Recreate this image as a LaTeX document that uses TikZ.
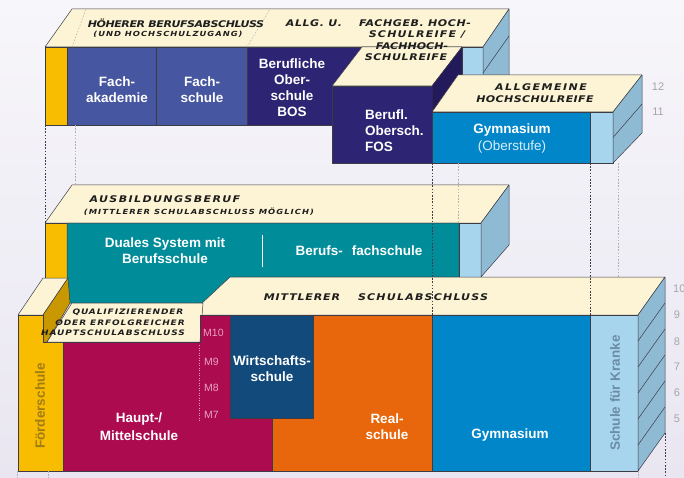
\documentclass[tikz,border=0pt]{standalone}
\usepackage{fontspec}
\setmainfont{Liberation Sans}
\newfontfamily\capsfont[FakeStretch=1.2]{DejaVu Sans}
\definecolor{bgtop}{HTML}{F7F6FA}
\definecolor{bgbottom}{HTML}{E9E6F1}
\definecolor{cream}{HTML}{FCF4D4}
\definecolor{gold}{HTML}{F8BC00}
\definecolor{ochre}{HTML}{C99700}
\definecolor{fachblue}{HTML}{4756A0}
\definecolor{bospurple}{HTML}{2E2474}
\definecolor{fosside}{HTML}{221A5A}
\definecolor{gymblue}{HTML}{0086C9}
\definecolor{paleblue}{HTML}{A8D5EE}
\definecolor{sideblue}{HTML}{8EBAD4}
\definecolor{dualteal}{HTML}{008C98}
\definecolor{hauptred}{HTML}{AD0B50}
\definecolor{wirtblue}{HTML}{124A7C}
\definecolor{realorange}{HTML}{E8670C}
\definecolor{edgegray}{HTML}{3C3C46}
\definecolor{capstext}{HTML}{1E1E1E}
\definecolor{gradegray}{HTML}{A6A6A6}
\definecolor{mpink}{HTML}{E6A2C0}
\definecolor{krankeblue}{HTML}{6B8CA6}
\definecolor{foerdergold}{HTML}{A07D12}
\definecolor{oberlight}{HTML}{D8EEFA}
\newcommand\capsbig[1]{\capsfont\bfseries\itshape\fontsize{9.2}{11}\selectfont\addfontfeature{LetterSpace=#1}}
\newcommand\capssmall[1]{\capsfont\bfseries\itshape\fontsize{7}{9}\selectfont\addfontfeature{LetterSpace=#1}}
\tikzset{
  face/.style={draw=edgegray,line width=.5pt,line join=round},
  guide/.style={draw=edgegray,line width=.6pt,dash pattern=on 1.6pt off 1.6pt},
  lightguide/.style={draw=gray!60,line width=.5pt,dash pattern=on 1.6pt off 1.6pt},
  capsnode/.style={inner sep=0pt,text=capstext},
  school/.style={inner sep=0pt,text=white,align=center,font=\bfseries\fontsize{13.5}{16}\selectfont},
  grade/.style={inner sep=0pt,text=gradegray,font=\fontsize{11}{13}\selectfont},
  mgrade/.style={inner sep=0pt,anchor=west,text=mpink,font=\fontsize{10.5}{12}\selectfont}
}
\begin{document}
\begin{tikzpicture}[x=1pt,y=-1pt]
\useasboundingbox (0,0) rectangle (684,478);
\shade[top color=bgtop,bottom color=bgbottom] (0,0) rectangle (684,478);
\filldraw[face,fill=cream] (45,47) -- (72,9) -- (509,9) -- (483,47) -- cycle;
\filldraw[face,fill=gold] (45,47) rectangle (67,125);
\filldraw[face,fill=fachblue] (67,47) rectangle (156,125);
\filldraw[face,fill=fachblue] (156,47) rectangle (247,125);
\filldraw[face,fill=bospurple] (247,47) rectangle (362,125);
\filldraw[face,fill=paleblue] (462,47) rectangle (483,128);
\filldraw[face,fill=sideblue] (483,47) -- (509,9) -- (509,100) -- (483,138) -- cycle;
\draw[face] (483,73) -- (509,36);
\filldraw[face,fill=cream] (332,86) -- (362,47) -- (462,47) -- (432,86) -- cycle;
\filldraw[face,fill=bospurple] (332,86) rectangle (432,163);
\filldraw[face,fill=fosside] (432,86) -- (462,47) -- (462,100) -- (432,140) -- cycle;
\filldraw[face,fill=cream] (432,112) -- (458,75) -- (642,75) -- (613,112) -- cycle;
\filldraw[face,fill=gymblue] (432,112) rectangle (590,163);
\filldraw[face,fill=paleblue] (590,112) rectangle (613,163);
\filldraw[face,fill=sideblue] (613,112) -- (642,75) -- (642,133) -- (613,163) -- cycle;
\draw[face] (613,137.5) -- (642,104);
\filldraw[face,fill=cream] (45,223) -- (72,185) -- (509,185) -- (481,223) -- cycle;
\filldraw[face,fill=gold] (45,223) rectangle (67,278);
\filldraw[face,fill=dualteal] (67,223) -- (459,223) -- (459,277) -- (230,277) -- (203,303) -- (67,303) -- cycle;
\filldraw[face,fill=paleblue] (459,223) rectangle (481,277);
\filldraw[face,fill=sideblue] (481,223) -- (509,185) -- (509,245) -- (481,277) -- cycle;
\draw[white,line width=.8pt] (262,235) -- (262,267);
\filldraw[face,fill=cream] (200,315) -- (200,305) -- (230,277) -- (665,277) -- (638,315) -- cycle;
\filldraw[face,fill=cream] (18,315) -- (43,278) -- (68,278) -- (43,315) -- cycle;
\filldraw[face,fill=ochre] (43,315) -- (68,278) -- (70,303) -- (47,342) -- (43,342) -- cycle;
\filldraw[face,fill=gold] (18,315) -- (43,315) -- (43,342) -- (63,342) -- (63,471) -- (18,471) -- cycle;
\filldraw[face,fill=cream] (47,342) -- (72,303) -- (203,303) -- (200,342) -- cycle;
\filldraw[face,fill=hauptred] (63,342) -- (200,342) -- (200,315) -- (230,315) -- (230,418) -- (272,418) -- (272,471) -- (63,471) -- cycle;
\filldraw[face,fill=wirtblue] (230,315) rectangle (313,418);
\filldraw[face,fill=realorange] (313,315) -- (432,315) -- (432,471) -- (272,471) -- (272,418) -- (313,418) -- cycle;
\filldraw[face,fill=gymblue] (432,315) rectangle (590,471);
\filldraw[face,fill=paleblue] (590,315) rectangle (638,471);
\filldraw[face,fill=sideblue] (638,315) -- (665,277) -- (665,433) -- (638,471) -- cycle;
\foreach \k in {1,...,5}
  \draw[face] (638,{315+26*\k}) -- (665,{277+26*\k});
\draw[mpink,line width=.5pt,dash pattern=on 1pt off 1.5pt] (199,345) -- (199,422);
\draw[guide] (45,125) -- (45,223);
\draw[lightguide] (75,125) -- (75,185);
\draw[guide] (432,163) -- (432,315);
\draw[lightguide] (458,163) -- (458,223);
\draw[guide] (590,163) -- (590,315);
\draw[lightguide] (618,163) -- (618,277);
\draw[lightguide] (72,47) -- (86,9);
\draw[lightguide] (247,47) -- (270,9);
\draw[lightguide] (17,471) -- (17,478);
\draw[lightguide] (48,471) -- (48,478);
\draw[guide] (665,433) -- (665,478);
\draw[lightguide] (638,471) -- (638,478);
\node[capsnode,font=\capsbig{-5}] (hoeher) at (176,23) {HÖHERER BERUFSABSCHLUSS};
\node[capsnode,font=\capssmall{14}] (hoehersub) at (168,34) {(UND HOCHSCHULZUGANG)};
\node[capsnode,font=\capsbig{6}] (allg) at (314,23) {ALLG. U.};
\node[capsnode,font=\capsbig{6}] (fachgeb1) at (415,23) {FACHGEB. HOCH-};
\node[capsnode,font=\capsbig{13}] (fachgeb2) at (417,35) {SCHULREIFE /};
\node[capsnode,font=\capsbig{0}] (fachgeb3) at (412,46) {FACHHOCH-};
\node[capsnode,font=\capsbig{7}] (fachgeb4) at (406,57) {SCHULREIFE};
\node[capsnode,font=\capsbig{16}] (allgem1) at (541,87) {ALLGEMEINE};
\node[capsnode,font=\capsbig{4}] (allgem2) at (535,99) {HOCHSCHULREIFE};
\node[capsnode,font=\capsbig{15}] (ausbild) at (165,199) {AUSBILDUNGSBERUF};
\node[capsnode,font=\capssmall{15}] (ausbildsub) at (199,212) {(MITTLERER SCHULABSCHLUSS MÖGLICH)};
\node[capsnode,font=\capsbig{9}] (mittl1) at (302,297) {MITTLERER};
\node[capsnode,font=\capsbig{13}] (mittl2) at (423,297) {SCHULABSCHLUSS};
\node[capsnode,font={\capsfont\bfseries\itshape\fontsize{7.5}{10.5}\selectfont\addfontfeature{LetterSpace=12}},align=center] (quali) at (128,322.5) {QUALIFIZIERENDER\\\hspace*{-16pt}ODER ERFOLGREICHER\\\hspace*{-30pt}HAUPTSCHULABSCHLUSS};
\node[school] (fachak) at (117,89.5) {Fach-\\akademie};
\node[school] (fachsch) at (202,89.5) {Fach-\\schule};
\node[school] (bos) at (292,87.5) {Berufliche\\Ober-\\schule\\BOS};
\node[school,align=left,anchor=west] (fos) at (365,130.5) {Berufl.\\Obersch.\\FOS};
\node[school] (gymober) at (512,130) {Gymnasium};
\node[school,text=oberlight,font=\fontsize{13.5}{16}\selectfont] (oberstufe) at (512,147) {(Oberstufe)};
\node[school] (duales) at (165,251) {Duales System mit\\Berufsschule};
\node[school] (berufsfach) at (359,251) {Berufs-\hspace{9pt}fachschule};
\node[school,font=\bfseries\fontsize{13.5}{18}\selectfont] (haupt) at (139,427) {Haupt-/\\Mittelschule};
\node[school] (wirt) at (272,369) {Wirtschafts-\\schule};
\node[school] (real) at (387,427) {Real-\\schule};
\node[school] (gymlow) at (510,435) {Gymnasium};
\node[school,text=foerdergold,rotate=90] (foerder) at (40,406) {Förderschule};
\node[school,text=krankeblue,rotate=90] (kranke) at (615,393) {Schule für Kranke};
\node[mgrade] (m10) at (203,333) {M10};
\node[mgrade] (m9) at (204,362) {M9};
\node[mgrade] (m8) at (204,388) {M8};
\node[mgrade] (m7) at (204,415) {M7};
\node[grade] (g12) at (658,87) {12};
\node[grade] (g11) at (658,112) {11};
\node[grade,anchor=west] (g10) at (673,289) {10};
\node[grade] (g9) at (677,315) {9};
\node[grade] (g8) at (677,342) {8};
\node[grade] (g7) at (677,367) {7};
\node[grade] (g6) at (677,393) {6};
\node[grade] (g5) at (677,419) {5};
\end{tikzpicture}
\end{document}
